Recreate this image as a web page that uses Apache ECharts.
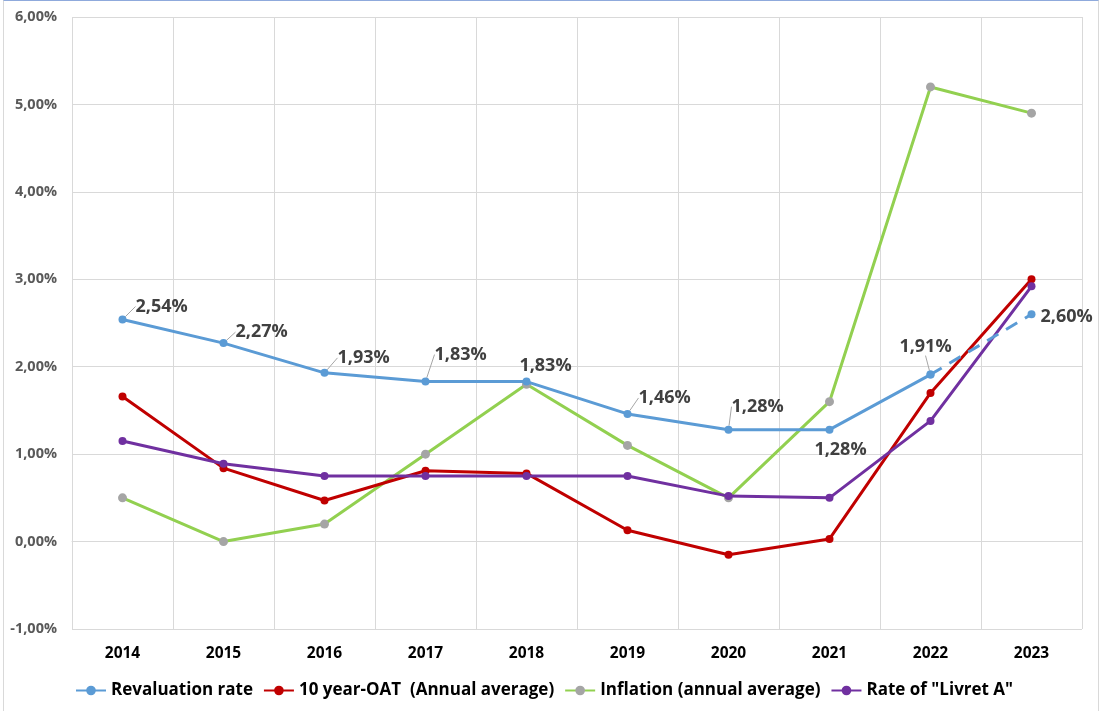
<!DOCTYPE html>
<html>
<head>
<meta charset="utf-8">
<script src="https://cdn.jsdelivr.net/npm/echarts@6/dist/echarts.min.js"></script>
<style>
  html, body { margin: 0; padding: 0; background: #fff; }
  #frame { position: absolute; left: 0; top: 0; width: 1104px; height: 711px; }
  #frame::before { content: ""; position: absolute; left: 3px; top: 0; width: 1096px; height: 711px;
    border-left: 1px solid #d9d9d9; border-right: 1px solid #d9d9d9; border-top: 1px solid #8faadc; box-sizing: border-box; }
  #chart { position: absolute; left: 0; top: 0; width: 1104px; height: 711px; }
</style>
</head>
<body>
<div id="frame"><div id="chart"></div></div>
<script>
// Years on the x axis
const years = ['2014', '2015', '2016', '2017', '2018', '2019', '2020', '2021', '2022', '2023'];

// Rates in percent
const revaluationRate = [2.54, 2.27, 1.93, 1.83, 1.83, 1.46, 1.28, 1.28, 1.91, 2.60];
const oat10Year = [1.66, 0.84, 0.47, 0.81, 0.78, 0.13, -0.15, 0.03, 1.70, 3.00];
const inflation = [0.50, 0.00, 0.20, 1.00, 1.80, 1.10, 0.50, 1.60, 5.20, 4.90];
const livretA = [1.15, 0.89, 0.75, 0.75, 0.75, 0.75, 0.52, 0.50, 1.38, 2.92];

// y axis bounds (percent)
const yMin = -1, yMax = 6, yStep = 1;

const pct = v => v.toFixed(2).replace('.', ',') + '%';

const FONT = 'Open Sans';

// Label displacement for the revaluation rate points: [dx, dy, position, leader line]
const labelPlace = [
  [4, -13, 'right', true], [3, -11, 'right', true], [4, -15, 'right', true], [0, -27, 'right', true],
  [19, 2, 'top', false], [2, -16, 'right', true], [-6, -23, 'right', true], [11, 2, 'bottom', false],
  [-5, -10, 'top', true], [0, 3, 'right', false]
];

const lastIdx = revaluationRate.length - 1;

const labelFont = { fontFamily: FONT, fontWeight: 'bold', fontSize: 18, color: '#404040' };

// solid part up to 2022, dashed projection 2022 → 2023
function revalData(showIdx) {
  return revaluationRate.map((v, i) => {
    if (!showIdx(i)) return '-';
    const p = labelPlace[i];
    const own = (i < lastIdx) === (showIdx(lastIdx) === false);
    return {
      value: v,
      label: { show: own, position: p[2], formatter: d => pct(d.value), ...labelFont },
      labelLine: { show: own && p[3] }
    };
  });
}

const leader = {
  labelLine: { show: true, length2: 0, lineStyle: { color: '#a6a6a6', width: 1 } },
  labelLayout: p => {
    const q = labelPlace[p.dataIndex];
    return { dx: q[0], dy: q[1] };
  }
};

const chart = echarts.init(document.getElementById('chart'), null, { renderer: 'canvas' });

chart.setOption({
  animation: false,
  backgroundColor: 'transparent',
  grid: { left: 72, right: 22, top: 17, bottom: 82 },
  legend: {
    left: 70, bottom: 7,
    itemWidth: 30, itemHeight: 12, itemGap: 10,
    textStyle: { fontFamily: FONT, fontWeight: 'bold', fontSize: 17, color: '#000' },
    data: ['Revaluation rate', '10 year-OAT  (Annual average)', 'Inflation (annual average)', 'Rate of "Livret A"']
  },
  xAxis: {
    type: 'category',
    data: years,
    boundaryGap: true,
    axisLine: { show: true, lineStyle: { color: '#d9d9d9', width: 1 } },
    axisTick: { show: false },
    splitLine: { show: true, lineStyle: { color: '#d9d9d9', width: 1 } },
    axisLabel: { margin: 17, fontFamily: FONT, fontWeight: 'bold', fontSize: 15.5, color: '#000' }
  },
  yAxis: {
    type: 'value',
    min: yMin, max: yMax, interval: yStep,
    axisLine: { show: false },
    axisTick: { show: false },
    splitLine: { lineStyle: { color: '#d9d9d9', width: 1 } },
    axisLabel: { margin: 15, formatter: v => pct(v), fontFamily: FONT, fontWeight: 'bold', fontSize: 14.5, color: '#595959' }
  },
  series: [
    {
      name: 'Revaluation rate', type: 'line', data: revalData(i => i < lastIdx),
      symbol: 'circle', symbolSize: 8, z: 5,
      lineStyle: { color: '#5b9bd5', width: 3 }, itemStyle: { color: '#5b9bd5' },
      ...leader
    },
    {
      name: 'Revaluation rate', type: 'line', data: revalData(i => i >= lastIdx - 1),
      symbol: 'circle', symbolSize: 8, z: 4,
      lineStyle: { color: '#5b9bd5', width: 3, type: [13, 9] }, itemStyle: { color: '#5b9bd5' },
      ...leader
    },
    {
      name: '10 year-OAT  (Annual average)', type: 'line', data: oat10Year,
      symbol: 'circle', symbolSize: 8, z: 3,
      lineStyle: { color: '#c00000', width: 3 }, itemStyle: { color: '#c00000' }
    },
    {
      name: 'Inflation (annual average)', type: 'line', data: inflation,
      symbol: 'circle', symbolSize: 9, z: 2,
      lineStyle: { color: '#92d050', width: 3 }, itemStyle: { color: '#a5a5a5' }
    },
    {
      name: 'Rate of "Livret A"', type: 'line', data: livretA,
      symbol: 'circle', symbolSize: 8, z: 3,
      lineStyle: { color: '#7030a0', width: 3 }, itemStyle: { color: '#7030a0' }
    }
  ]
});
</script>
</body>
</html>
